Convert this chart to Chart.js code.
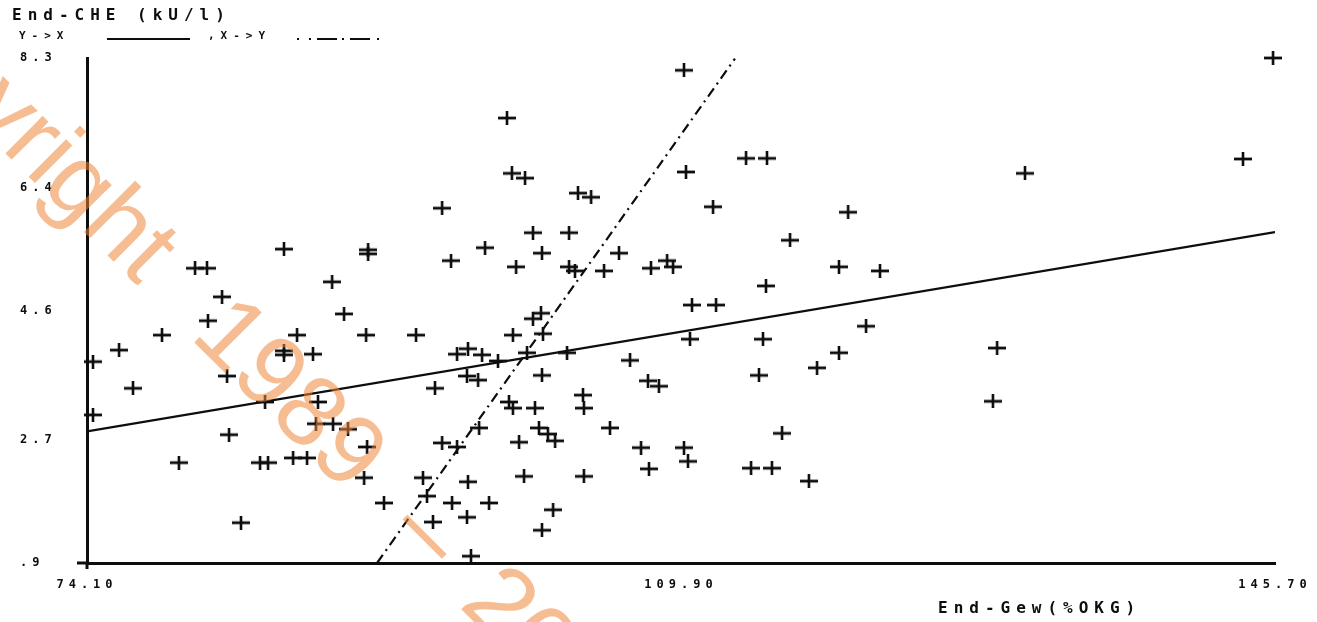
<!DOCTYPE html>
<html>
<head>
<meta charset="utf-8">
<title>End-CHE vs End-Gew</title>
<script src="https://cdn.jsdelivr.net/npm/chart.js@4.4.1/dist/chart.umd.min.js"></script>
<style>
  html, body { margin: 0; padding: 0; background: #ffffff; }
  canvas { display: block; }
</style>
</head>
<body>
<canvas id="plot" width="1317" height="622"></canvas>
<script>
// End-Gew (%OKG) per patient
const xVals = [145.58,110.08,99.41,113.82,115.08,143.77,99.71,100.50,110.20,130.63,
  103.69,104.48,95.50,111.83,119.97,100.98,103.15,116.47,85.97,91.04,
  91.04,98.09,101.52,106.16,80.61,81.33,96.04,99.96,103.15,103.51,
  105.26,108.09,109.06,109.42,119.42,121.89,82.24,88.87,115.02,110.56,
  112.01,89.59,81.39,78.62,86.76,90.92,93.93,76.03,74.46,85.97,
  85.97,87.72,96.40,97.06,97.91,98.87,101.46,100.98,99.77,101.58,
  100.62,103.03,110.44,114.84,121.05,119.42,128.95,118.10,114.60,106.83,
  107.91,108.57,97.00,97.67,82.54,76.87,95.07,101.52,103.99,104.05,
  99.53,99.77,101.10,84.83,88.02,74.46,87.90,88.93,89.83,97.73,
  101.34,101.88,102.31,100.14,105.62,115.99,128.70,82.66,90.98,95.50,
  96.40,107.49,110.08,79.64,84.53,85.01,86.52,87.36,110.32,107.97,
  114.12,115.38,117.61,90.80,94.35,97.06,100.44,104.05,94.59,96.10,
  98.33,92.00,94.95,97.00,83.38,102.19,101.52,97.24];

// End-CHE (kU/l) per patient
const yVals = [8.30,8.12,7.42,6.83,6.83,6.82,6.61,6.54,6.63,6.61,
  6.32,6.26,6.10,6.12,6.04,5.74,5.74,5.63,5.50,5.49,
  5.43,5.52,5.44,5.44,5.22,5.22,5.33,5.24,5.24,5.18,
  5.18,5.22,5.33,5.24,5.24,5.18,4.80,5.02,4.96,4.68,
  4.68,4.55,4.45,4.24,4.24,4.24,4.24,4.02,3.85,4.01,
  3.95,3.96,3.96,4.04,3.95,3.86,4.56,4.48,4.24,4.26,
  3.98,3.98,4.18,4.18,4.37,3.98,4.05,3.76,3.65,3.87,
  3.57,3.49,3.64,3.58,3.64,3.46,3.46,3.65,3.36,3.17,
  3.26,3.17,3.17,3.26,3.26,3.07,2.94,2.94,2.86,2.88,
  2.88,2.79,2.69,2.67,2.88,2.80,3.27,2.78,2.60,2.66,
  2.60,2.59,2.59,2.37,2.37,2.37,2.44,2.44,2.39,2.28,
  2.29,2.29,2.10,2.15,2.15,2.09,2.17,2.17,1.88,1.78,
  1.78,1.78,1.50,1.57,1.49,1.68,1.38,1.00];

// Regression lines: Y->X (solid) and X->Y (dash-dot)
const fitYonX_x = [74.1, 145.7];
const fitYonX_y = [2.83, 5.75];
const fitXonY_x = [91.58, 113.15];
const fitXonY_y = [0.9, 8.29];

// Axis ticks
const xTicks = [74.1, 109.9, 145.7];
const xTickLabels = ['74.10', '109.90', '145.70'];
const yTicks = [0.9, 2.7, 4.6, 6.4, 8.3];
const yTickLabels = ['.9', '2.7', '4.6', '6.4', '8.3'];

const yTitle = 'End-CHE (kU/l)';
const xTitle = 'End-Gew(%OKG)';
const legendA = 'Y->X';
const legendB = ',X->Y';
const markWord = 'Copyright';
const markYear = '1989';
const markDash = '\u2013';
const markTail = '20';

const INK = '#0d0d0d';

// plus-shaped marker, wider than tall
function makePlus() {
  const c = document.createElement('canvas');
  c.width = 18; c.height = 14;
  const g = c.getContext('2d');
  g.fillStyle = INK;
  g.fillRect(0, 5.6, 18, 2.8);
  g.fillRect(7.7, 0, 2.6, 14);
  return c;
}
const plus = makePlus();

const toPts = (xs, ys) => xs.map((x, i) => ({ x: x, y: ys[i] }));

const decor = {
  id: 'decor',
  beforeDraw(chart) {
    chart.ctx.letterSpacing = '5px';
  },
  afterDraw(chart) {
    const ctx = chart.ctx;
    const area = chart.chartArea;
    ctx.save();

    // axes run a little past their crossing point
    ctx.strokeStyle = INK;
    ctx.lineWidth = 3;
    ctx.beginPath();
    ctx.moveTo(area.left - 10, area.bottom); ctx.lineTo(area.left, area.bottom);
    ctx.moveTo(area.left, area.bottom); ctx.lineTo(area.left, area.bottom + 6);
    ctx.stroke();

    ctx.fillStyle = INK;
    ctx.textAlign = 'left';
    ctx.textBaseline = 'middle';
    ctx.font = 'bold 16px "DejaVu Sans Mono"';
    ctx.letterSpacing = '6px';
    ctx.fillText(yTitle, 12, 16);
    ctx.fillText(xTitle, 938, 609);

    ctx.font = 'bold 11px "DejaVu Sans Mono"';
    ctx.letterSpacing = '6px';
    ctx.fillText(legendA, 19, 36);
    ctx.fillText(legendB, 208, 36);

    ctx.lineWidth = 2;
    ctx.beginPath(); ctx.moveTo(107, 39); ctx.lineTo(190, 39); ctx.stroke();
    ctx.setLineDash([2, 10, 2, 6, 20, 5, 2, 6, 20, 7, 2, 300]);
    ctx.beginPath(); ctx.moveTo(297, 39); ctx.lineTo(380, 39); ctx.stroke();
    ctx.setLineDash([]);

    // diagonal watermark, laid out along a 45 degree baseline
    ctx.font = '100px "Liberation Sans"';
    ctx.letterSpacing = '0px';
    ctx.textBaseline = 'alphabetic';
    ctx.fillStyle = 'rgba(236,135,55,0.55)';
    ctx.translate(189, 337);
    ctx.rotate(Math.PI / 4);
    const wordW = ctx.measureText(markWord).width;
    ctx.fillText(markWord, -wordW - 72, 0);
    ctx.fillText(markYear, 0, 0);
    ctx.fillText(markDash, 280, 0);
    ctx.fillText(markTail, 380, 0);
    ctx.restore();
  }
};

new Chart(document.getElementById('plot'), {
  type: 'scatter',
  data: {
    datasets: [
      {
        label: 'data',
        data: toPts(xVals, yVals),
        pointStyle: plus,
        pointRadius: 9,
        clip: false,
        order: 1
      },
      {
        type: 'line',
        label: legendA,
        data: toPts(fitYonX_x, fitYonX_y),
        borderColor: INK,
        borderWidth: 2.2,
        pointRadius: 0,
        fill: false,
        order: 2
      },
      {
        type: 'line',
        label: legendB,
        data: toPts(fitXonY_x, fitXonY_y),
        borderColor: INK,
        borderWidth: 2.2,
        borderDash: [10, 5, 2, 5],
        pointRadius: 0,
        fill: false,
        clip: false,
        order: 3
      }
    ]
  },
  options: {
    responsive: false,
    animation: false,
    devicePixelRatio: 1,
    layout: { padding: { top: 58, left: 20, right: 42, bottom: 0 } },
    plugins: {
      legend: { display: false },
      tooltip: { enabled: false },
      title: { display: false }
    },
    scales: {
      x: {
        type: 'linear',
        min: 74.1,
        max: 145.7,
        afterBuildTicks(s) { s.ticks = xTicks.map(v => ({ value: v })); },
        afterFit(s) { s.height = 59; },
        grid: { display: false, drawTicks: false },
        border: { display: true, color: INK, width: 3 },
        ticks: {
          padding: 15,
          color: INK,
          font: { family: 'DejaVu Sans Mono', size: 12, weight: 'bold' },
          maxRotation: 0,
          autoSkip: false,
          callback(v) { const i = xTicks.indexOf(v); return i >= 0 ? xTickLabels[i] : ''; }
        }
      },
      y: {
        type: 'linear',
        min: 0.9,
        max: 8.3,
        afterBuildTicks(s) { s.ticks = yTicks.map(v => ({ value: v })); },
        afterFit(s) { s.width = 67; },
        grid: { display: false, drawTicks: false },
        border: { display: true, color: INK, width: 3 },
        ticks: {
          crossAlign: 'far',
          padding: 0,
          color: INK,
          font: { family: 'DejaVu Sans Mono', size: 12, weight: 'bold' },
          autoSkip: false,
          callback(v) { const i = yTicks.indexOf(v); return i >= 0 ? yTickLabels[i] : ''; }
        }
      }
    }
  },
  plugins: [decor]
});
</script>
</body>
</html>
